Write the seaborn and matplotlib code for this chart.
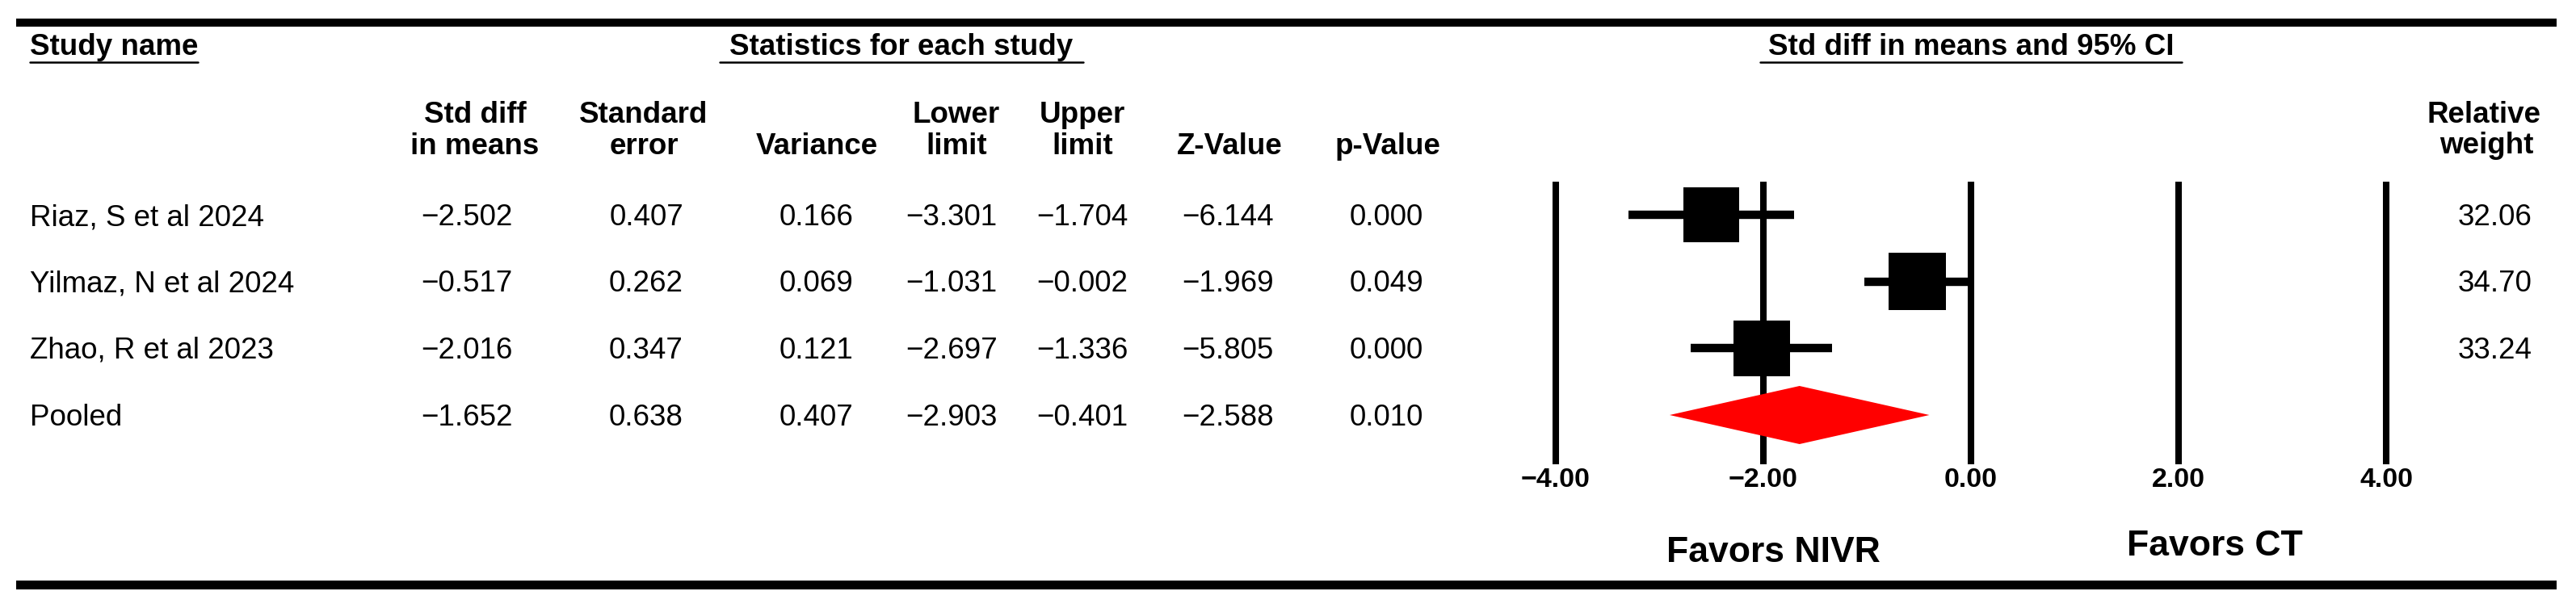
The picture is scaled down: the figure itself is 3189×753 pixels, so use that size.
import numpy as np
import pandas as pd
import matplotlib
matplotlib.use("Agg")
import matplotlib.pyplot as plt
from matplotlib.patches import Rectangle
from matplotlib.lines import Line2D
import seaborn as sns

# ---------------- data ----------------
studies = ["Riaz, S et al 2024", "Yilmaz, N et al 2024", "Zhao, R et al 2023"]
pooled_name = "Pooled"
smd = [-2.502, -0.517, -2.016]
std_err = [0.407, 0.262, 0.347]
variance = [0.166, 0.069, 0.121]
lower = [-3.301, -1.031, -2.697]
upper = [-1.704, -0.002, -1.336]
z_value = [-6.144, -1.969, -5.805]
p_value = [0.000, 0.049, 0.000]
rel_weight = [32.06, 34.70, 33.24]

pooled_smd = -1.652
pooled_se = 0.638
pooled_var = 0.407
pooled_lower = -2.903
pooled_upper = -0.401
pooled_z = -2.588
pooled_p = 0.010

x_ticks = [-4.0, -2.0, 0.0, 2.0, 4.0]
favors_labels = ["Favors NIVR", "Favors CT"]
group_headers = ["Study name", "Statistics for each study", "Std diff in means and 95% CI"]
col_headers = [["Std diff", "in means"], ["Standard", "error"], ["", "Variance"],
               ["Lower", "limit"], ["Upper", "limit"], ["", "Z-Value"], ["", "p-Value"]]
weight_header = ["Relative", "weight"]

# ---------------- style ----------------
sns.set_theme(style="white")
plt.rcParams["font.family"] = ["Liberation Sans", "DejaVu Sans"]

W, H, DPI = 3189, 753, 100
fig = plt.figure(figsize=(W / DPI, H / DPI), dpi=DPI)
fig.patch.set_facecolor("white")

def fx(x):
    return x / W

def fy(y):
    return 1 - y / H

def fmt(v, d=3):
    return f"{v:.{d}f}".replace("-", "\u2212")

FS = 26.5
ROW_Y = [266, 348, 431, 514]          # pixel centre of each row
BASE_OFF = 13                         # cap centre -> baseline

def text(x, y, s, ha="left", weight="normal", size=FS):
    return fig.text(fx(x), fy(y), s, ha=ha, va="baseline", fontsize=size,
                    fontweight=weight, color="black")

# ---------------- frame bars ----------------
for y0, y1 in [(23, 33), (719, 730)]:
    fig.add_artist(Rectangle((fx(20), fy(y1)), (3165 - 20) / W, (y1 - y0) / H,
                             transform=fig.transFigure, color="black", lw=0))

# ---------------- group headers with underline ----------------
gh_pos = [(37, "left", FS), (1116, "center", FS), (2440, "center", FS)]
gh_texts = []
for s, (x, ha, sz) in zip(group_headers, gh_pos):
    gh_texts.append(text(x, 68, s, ha=ha, weight="bold", size=sz))
fig.canvas.draw()
renderer = fig.canvas.get_renderer()
pads = [0, 12, 10]
for t, p in zip(gh_texts, pads):
    bb = t.get_window_extent(renderer)
    fig.add_artist(Line2D([fx(bb.x0 - p), fx(bb.x1 + p)], [fy(77), fy(77)],
                          transform=fig.transFigure, color="black", lw=1.8))

# ---------------- column headers ----------------
col_x = [578, 800, 1011, 1178, 1340, 1520, 1716]
hdr_x = [588, 797, 1011, 1184, 1340, 1522, 1718]
for hdr, x in zip(col_headers, hdr_x):
    text(x, 152, hdr[0], ha="center", weight="bold")
    text(x, 191, hdr[1], ha="center", weight="bold")
text(3075, 152, weight_header[0], ha="center", weight="bold")
text(3078, 190, weight_header[1], ha="center", weight="bold")

# ---------------- table rows ----------------
names = studies + [pooled_name]
cols = [smd + [pooled_smd], std_err + [pooled_se], variance + [pooled_var],
        lower + [pooled_lower], upper + [pooled_upper], z_value + [pooled_z],
        p_value + [pooled_p]]
for i, name in enumerate(names):
    yb = ROW_Y[i] + BASE_OFF
    text(37, yb, name)
    for vals, x in zip(cols, col_x):
        text(x, yb, fmt(vals[i]), ha="center")
for i, w in enumerate(rel_weight):
    text(3135, ROW_Y[i] + BASE_OFF, fmt(w, 2), ha="right")

# ---------------- forest plot axes ----------------
ROWSTEP = (ROW_Y[-1] - ROW_Y[0]) / 3.0
def row_of(ypix):
    return (ypix - ROW_Y[0]) / ROWSTEP

AX_T, AX_B = 200, 575
X0PIX, XSCALE = 2440, 128.5
XLIM = (-4.5, 4.5)
L = X0PIX + XLIM[0] * XSCALE
R = X0PIX + XLIM[1] * XSCALE
ax = fig.add_axes([fx(L), fy(AX_B), (R - L) / W, (AX_B - AX_T) / H])
ax.set_facecolor("none")

ax.vlines(x_ticks, row_of(225), row_of(AX_B), colors="black", lw=5.8,
          capstyle="butt", zorder=1)

rows = np.arange(len(studies))
ax.hlines(rows, lower, upper, colors="black", lw=7.5, capstyle="butt", zorder=2)

df = pd.DataFrame({"smd": smd, "row": rows, "weight": rel_weight})
area_per_w = 74.8
sns.scatterplot(data=df, x="smd", y="row", size="weight",
                sizes=(area_per_w * min(rel_weight), area_per_w * max(rel_weight)),
                size_norm=(min(rel_weight), max(rel_weight)),
                marker="s", color="black", linewidth=0, legend=False, ax=ax, zorder=3)

h = 36 / ROWSTEP
pr = len(studies)
ax.fill([pooled_lower, pooled_smd, pooled_upper, pooled_smd],
        [pr, pr - h, pr, pr + h], color="#ff0000", lw=0, zorder=4)

ax.set_xlim(*XLIM)
ax.set_ylim(row_of(AX_B), row_of(AX_T))
ax.set_xticks(x_ticks)
ax.set_xticklabels([fmt(t, 2) for t in x_ticks], fontweight="bold", fontsize=24.5)
ax.set_yticks([])
ax.set_xlabel("")
ax.set_ylabel("")
ax.tick_params(axis="x", length=0, pad=3, colors="black")
sns.despine(ax=ax, left=True, bottom=True)

# ---------------- favors labels ----------------
text(2195, 696, favors_labels[0], ha="center", weight="bold", size=32)
text(2742, 688, favors_labels[1], ha="center", weight="bold", size=32)

fig.savefig("out.png", dpi=DPI, facecolor="white")
